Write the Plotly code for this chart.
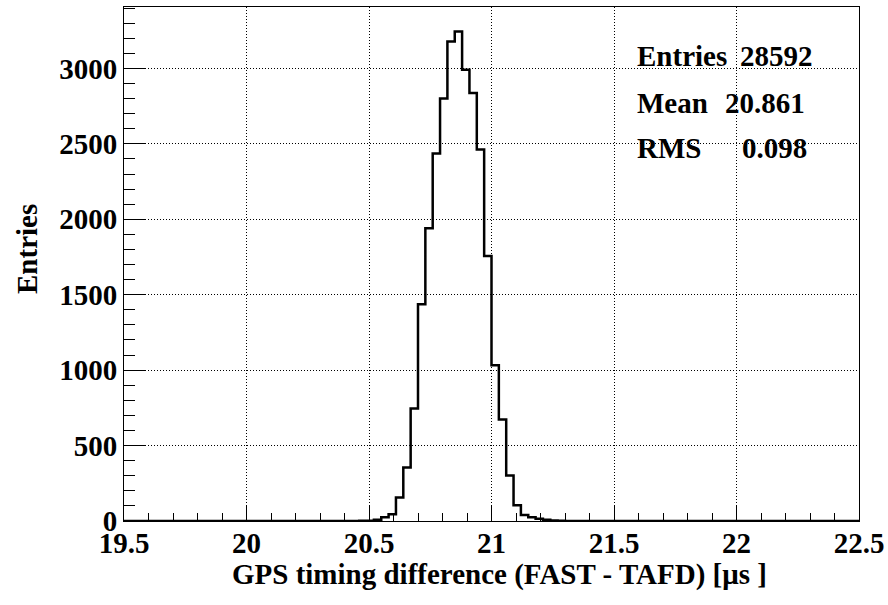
import numpy as np
import plotly.graph_objects as go

# ---- histogram definition / data ----
x_min, x_max, n_bins = 19.5, 22.5, 100
first_filled_bin = 32
counts_filled = [1, 2, 8, 25, 45, 156, 355, 746, 1437, 1941, 2436, 2801, 3179, 3245,
                 2991, 2837, 2463, 1757, 1032, 673, 302, 105, 40, 25, 15, 8, 4, 2]
stat_labels = ["Entries", "Mean", "RMS"]
stat_values = ["28592", "20.861", "0.098"]
x_ticks = [19.5, 20, 20.5, 21, 21.5, 22, 22.5]
x_tick_text = ["19.5", "20", "20.5", "21", "21.5", "22", "22.5"]
y_max = 3407
x_title = "GPS timing difference (FAST - TAFD) [μs ]"
y_title = "Entries"

counts = np.zeros(n_bins)
counts[first_filled_bin:first_filled_bin + len(counts_filled)] = counts_filled
edges = np.linspace(x_min, x_max, n_bins + 1)
step_y = np.append(counts, counts[-1])

W, H = 888, 605
L, R, T, B = 124, 29, 7, 84
pw, ph = W - L - R, H - T - B


def px(xp):
    return (xp - L) / pw


def py(yp):
    return (H - B - yp) / ph


FONT = "Liberation Serif"
FS = 29
fig = go.Figure()
fig.add_trace(go.Scatter(x=edges, y=step_y, mode="lines", line=dict(color="black", width=2.5, shape="hv"),
                         hoverinfo="skip", showlegend=False))

axis_common = dict(showline=True, linecolor="black", linewidth=1, mirror=True,
                   showgrid=True, gridcolor="black", gridwidth=1, griddash="1px,2px",
                   ticks="inside", tickcolor="black", tickwidth=1, zeroline=False,
                   tickfont=dict(family=FONT, size=FS, color="black", weight="bold"))

fig.update_xaxes(range=[x_min, x_max], tickvals=x_ticks, ticktext=x_tick_text, ticklen=15,
                 ticklabelstandoff=-4,
                 minor=dict(dtick=0.1, tick0=x_min, ticklen=8, ticks="inside", tickcolor="black", showgrid=False),
                 **axis_common)
fig.update_yaxes(range=[0, y_max], tick0=0, dtick=500, ticklen=22,
                 minor=dict(dtick=100, ticklen=11, ticks="inside", tickcolor="black", showgrid=False),
                 **axis_common)

ann_font = dict(family=FONT, size=FS, color="black", weight="bold")
annotations = [
    dict(text=x_title, x=px(499), y=py(574), xref="paper", yref="paper", showarrow=False,
         xanchor="center", yanchor="middle", font=ann_font),
    dict(text=y_title, x=px(27), y=py(249), xref="paper", yref="paper", showarrow=False,
         xanchor="center", yanchor="middle", textangle=-90, font=ann_font),
]
label_y = [56, 103, 148]
value_x = [740, 725, 742]
for lab, val, yy, vx in zip(stat_labels, stat_values, label_y, value_x):
    annotations.append(dict(text=lab, x=px(635), y=py(yy), xref="paper", yref="paper", showarrow=False,
                            xanchor="left", yanchor="middle", font=ann_font))
    annotations.append(dict(text=val, x=px(vx - 2), y=py(yy), xref="paper", yref="paper", showarrow=False,
                            xanchor="left", yanchor="middle", font=ann_font))

fig.update_layout(width=W, height=H, margin=dict(l=L, r=R, t=T, b=B, autoexpand=False),
                  plot_bgcolor="white", paper_bgcolor="white", annotations=annotations,
                  showlegend=False)

fig.write_html("out.html", config={"displayModeBar": False},
               post_script="document.body.style.margin='0px';")
